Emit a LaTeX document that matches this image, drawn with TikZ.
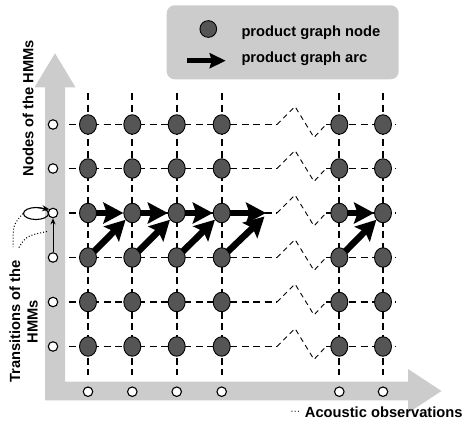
\documentclass[tikz,border=0pt]{standalone}
\usepackage{fontspec}
\setmainfont{Liberation Sans}
\usetikzlibrary{shapes.geometric,arrows.meta}
\definecolor{axisgray}{RGB}{204,204,204}
\definecolor{nodegray}{RGB}{85,85,85}
\tikzset{
  pgnode/.style={ellipse,draw=black,line width=0.9pt,fill=nodegray,minimum width=17pt,minimum height=19.5pt,inner sep=0pt},
  obs/.style={circle,draw=black,line width=1.1pt,fill=white,minimum size=9.5pt,inner sep=0pt},
  gridline/.style={line width=1.8pt,dash pattern=on 7pt off 4.5pt},
  breakline/.style={line width=0.9pt,dash pattern=on 5pt off 4pt},
  bigarrow/.style={line width=6.5pt,-{Stealth[length=20pt,width=21pt,inset=3.5pt]},shorten <=-1pt},
  legarrow/.style={line width=5pt,-{Stealth[length=16pt,width=15pt,inset=2pt]}},
  lbl/.style={font=\bfseries\fontsize{14.7}{17}\selectfont,inner sep=0pt}
}
\begin{document}
\begin{tikzpicture}[x=1pt,y=-1pt]
\useasboundingbox (0,0) rectangle (464,421);
% gray axes
\fill[axisgray] (45,400.3) -- (45,87.3) -- (34.5,87.3) -- (55,53.3) -- (75.5,87.3) -- (65,87.3)
  -- (65,381.7) -- (408,381.7) -- (408,369) -- (441.5,391) -- (408,413) -- (408,400.3) -- cycle;
% legend box
\fill[axisgray,rounded corners=8pt] (166.7,5.3) rectangle (398.7,79.3);
\node[pgnode,circle,minimum size=16.7pt] (legnode) at (208.3,29) {};
\coordinate (legA) at (187,60.7);
\coordinate (legB) at (225.7,60.7);
\draw[legarrow] (legA) -- (legB);
\node[lbl,anchor=base west] (legt1) at (241.3,36.7) {product graph node};
\node[lbl,anchor=base west] (legt2) at (241.3,62.3) {product graph arc};
% grid coordinates
\foreach \c/\x in {1/88,2/132.3,3/176.7,4/221.7,5/339.3,6/383}{
  \foreach \r/\y in {1/124.5,2/168.5,3/213,4/257.5,5/302,6/346.5}{
    \coordinate (p-\c-\r) at (\x,\y);
  }
  \draw[gridline] (\x,93) -- (\x,375);
}
\foreach \r/\y in {1/124.5,2/168.5,3/213,4/257.5,5/302,6/346.5}{
  \coordinate (hl-\r) at (69,\y);
  \coordinate (hb-\r) at (277,\y);
  \coordinate (hc-\r) at (326,\y);
  \coordinate (hr-\r) at (396,\y);
  \draw[gridline] (hl-\r) -- (hb-\r);
  \draw[breakline] (hb-\r) -- (295,\y-18) -- (314,\y+13) -- (hc-\r);
  \draw[gridline] (hc-\r) -- (hr-\r);
}
% product graph nodes
\foreach \c in {1,...,6}{
  \foreach \r in {1,...,6}{
    \node[pgnode] (n-\c-\r) at (p-\c-\r) {};
  }
}
% observation circles
\foreach \r/\y in {1/124.5,2/168.5,3/213,4/257.5,5/302,6/346.5}{
  \node[obs] (s-\r) at (53,\y) {};
}
\foreach \c/\x in {1/88,2/132.3,3/176.7,4/221.7,5/339.3,6/383}{
  \node[obs] (o-\c) at (\x,391.7) {};
}
% product graph arcs
\coordinate (endH) at (266,213);
\coordinate (endD) at (264.5,216.5);
\draw[bigarrow] (n-1-3) -- (n-2-3);
\draw[bigarrow] (n-2-3) -- (n-3-3);
\draw[bigarrow] (n-3-3) -- (n-4-3);
\draw[bigarrow] (n-4-3) -- (endH);
\draw[bigarrow] (n-5-3) -- (n-6-3);
\draw[bigarrow] (n-1-4) -- (n-2-3);
\draw[bigarrow] (n-2-4) -- (n-3-3);
\draw[bigarrow] (n-3-4) -- (n-4-3);
\draw[bigarrow] (n-4-4) -- (endD);
\draw[bigarrow] (n-5-4) -- (n-6-3);
% HMM transitions
\draw[line width=1pt,-{Stealth[length=6pt,width=5pt]}] (s-4) -- (s-3);
\node[ellipse,draw=black,line width=1.1pt,minimum width=25pt,minimum height=12pt,inner sep=0pt] (loop) at (36,213.5) {};
\coordinate (loopA) at (38,207.6);
\draw[line width=1pt,-{Stealth[length=7pt,width=6pt]}] (loopA) -- (s-3.north west);
% labels
\node[lbl,rotate=90,anchor=base west] (nodeslbl) at (33.3,176.7) {Nodes of the HMMs};
\node[lbl,rotate=90,anchor=base] (translbl1) at (20,321.5) {Transitions of the};
\node[lbl,rotate=90,anchor=base] (translbl2) at (37.7,321.5) {HMMs};
\coordinate (dotA) at (47,231.5);
\draw[dotted,line width=1pt] (loop.west) .. controls (13,225) .. (13,247);
\draw[dotted,line width=1pt] (dotA) .. controls (26,236) .. (18,249);
\node[lbl,anchor=base west] (acou) at (304.7,417.3) {Acoustic observations};
\node[font=\fontsize{10}{12}\selectfont,inner sep=0pt] (dots) at (295.3,412.5) {···};
\end{tikzpicture}
\end{document}
